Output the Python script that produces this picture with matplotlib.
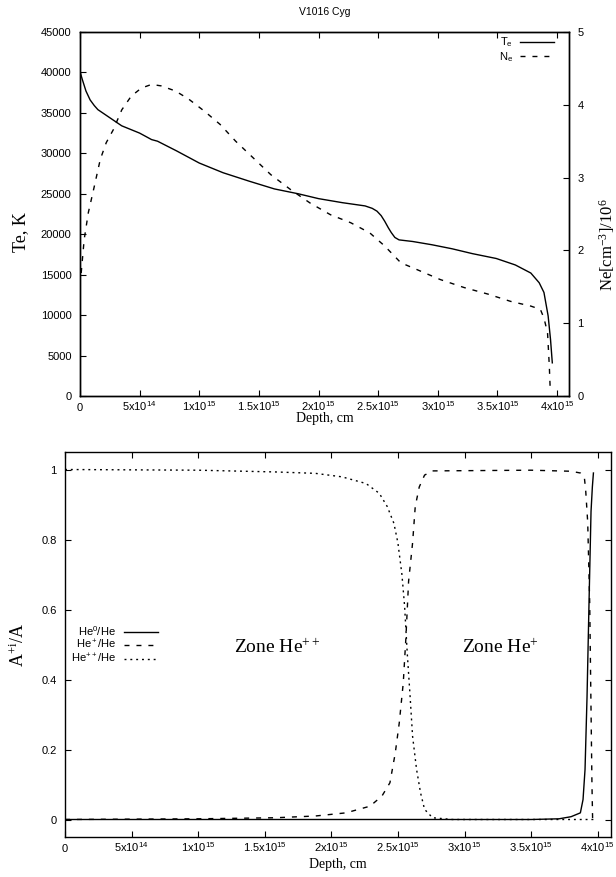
import matplotlib
matplotlib.use("Agg")
import matplotlib.pyplot as plt
import numpy as np

plt.rcParams['font.family'] = ['Liberation Sans', 'DejaVu Sans']
plt.rcParams['mathtext.fontset'] = 'custom'
plt.rcParams['mathtext.rm'] = 'Liberation Sans'
plt.rcParams['mathtext.it'] = 'Liberation Sans:italic'
plt.rcParams['mathtext.default'] = 'regular'

# ---------------- data (depth in units of 1e15 cm) ----------------
te_depth = [0.0, 0.02, 0.05, 0.085, 0.12, 0.15, 0.2, 0.25, 0.35, 0.50, 0.60, 0.65, 0.81,
            1.00, 1.20, 1.42, 1.63, 1.83, 2.00, 2.20, 2.39, 2.45, 2.49, 2.525, 2.555,
            2.585, 2.61, 2.64, 2.675, 2.79, 2.95, 3.12, 3.29, 3.49, 3.65, 3.78, 3.85,
            3.89, 3.925, 3.945, 3.96]
te_vals = [40100, 39100, 37700, 36600, 35900, 35400, 34900, 34400, 33400, 32500, 31700,
           31500, 30300, 28800, 27600, 26550, 25600, 25000, 24400, 23900, 23500, 23200,
           22850, 22300, 21600, 20800, 20200, 19600, 19300, 19100, 18700, 18200, 17600,
           17000, 16200, 15200, 14000, 12800, 9900, 7000, 4100]

ne_depth = [0.01, 0.035, 0.07, 0.12, 0.17, 0.22, 0.28, 0.35, 0.43, 0.515, 0.60, 0.68,
            0.80, 0.91, 1.045, 1.175, 1.305, 1.44, 1.60, 1.77, 1.93, 2.10, 2.27, 2.43,
            2.555, 2.69, 2.82, 3.02, 3.22, 3.42, 3.61, 3.78, 3.86, 3.89, 3.92, 3.935,
            3.942]
ne_vals = [1.69, 2.15, 2.52, 2.88, 3.25, 3.48, 3.66, 3.93, 4.12, 4.23, 4.28, 4.26, 4.19,
           4.08, 3.91, 3.73, 3.50, 3.29, 3.04, 2.83, 2.65, 2.49, 2.38, 2.24, 2.06, 1.83,
           1.74, 1.60, 1.49, 1.40, 1.30, 1.235, 1.19, 1.07, 0.87, 0.41, 0.11]

he0_depth = [0.0, 3.5, 3.71, 3.80, 3.87, 3.89, 3.905, 3.92, 3.935, 3.95, 3.96, 3.968]
he0_vals = [0.0, 0.0, 0.002, 0.008, 0.019, 0.057, 0.143, 0.35, 0.62, 0.88, 0.95, 0.99]

he1_depth = [0.0, 1.0, 1.58, 1.88, 2.11, 2.29, 2.38, 2.44, 2.48, 2.51, 2.54, 2.56, 2.58,
             2.61, 2.63, 2.66, 2.70, 2.76, 3.5, 3.80, 3.87, 3.90, 3.91, 3.925, 3.94,
             3.957, 3.962]
he1_vals = [0.0, 0.002, 0.005, 0.01, 0.019, 0.038, 0.067, 0.105, 0.19, 0.276, 0.39, 0.52,
            0.68, 0.79, 0.894, 0.95, 0.984, 0.996, 0.998, 0.995, 0.99, 0.977, 0.94, 0.85,
            0.62, 0.1, 0.0]

he2_depth = [0.0, 1.0, 1.58, 1.88, 2.08, 2.26, 2.36, 2.42, 2.47, 2.50, 2.53, 2.55, 2.57,
             2.59, 2.61, 2.64, 2.67, 2.70, 2.76, 2.91, 3.97]
he2_vals = [1.0, 0.998, 0.993, 0.989, 0.979, 0.96, 0.932, 0.894, 0.846, 0.79, 0.70, 0.61,
            0.475, 0.36, 0.238, 0.143, 0.076, 0.029, 0.005, 0.0, 0.0]

x_ticks = [0, 0.5, 1.0, 1.5, 2.0, 2.5, 3.0, 3.5, 4.0]
x_labels = ['0', '5x10$^{14}$', '1x10$^{15}$', '1.5x10$^{15}$', '2x10$^{15}$',
            '2.5x10$^{15}$', '3x10$^{15}$', '3.5x10$^{15}$', '4x10$^{15}$']
te_ticks = [0, 5000, 10000, 15000, 20000, 25000, 30000, 35000, 40000, 45000]
ne_ticks = [0, 1, 2, 3, 4, 5]
frac_ticks = [0, 0.2, 0.4, 0.6, 0.8, 1]
frac_labels = ['0', '0.2', '0.4', '0.6', '0.8', '1']

E15 = 1e15
W, H = 616, 877
fig = plt.figure(figsize=(W / 100, H / 100), dpi=100)

def ax_rect(l, r, t, b):
    return [l / W, 1 - b / H, (r - l) / W, (b - t) / H]

dash = (0, (3.6, 5.0))
dot = (0, (1.4, 2.8))
LW = 1.0
FS = 8
serif = dict(family=['Liberation Serif', 'DejaVu Serif'], math_fontfamily='stix')

def style_ticks(ax):
    ax.set_xticks([v * E15 for v in x_ticks])
    ax.set_xticklabels(x_labels)
    for lab in ax.get_xticklabels():
        lab.set_verticalalignment('baseline')
    for s in ax.spines.values():
        s.set_linewidth(1.0)

# ---------------- top panel ----------------
ax1 = fig.add_axes(ax_rect(80, 569, 32, 396))
l_te, = ax1.plot([d * E15 for d in te_depth], te_vals, color='black', lw=LW, label='T$_e$')
ax1.set_xlim(0, 4.1 * E15)
ax1.set_ylim(0, 45000)
ax1.set_yticks(te_ticks)
style_ticks(ax1)
ax1.tick_params(axis='x', direction='in', length=4, width=0.8, top=True, labelsize=FS, pad=11)
ax1.tick_params(axis='y', direction='in', length=4, width=0.8, right=False, labelsize=FS, pad=6)
ax1.set_xlabel('Depth, cm', fontsize=10, **serif)
ax1.xaxis.set_label_coords(0.5, -0.045)
ax1.set_ylabel('Te, K', fontsize=13, **serif)
ax1.yaxis.set_label_coords(-0.105, 0.45)

ax2 = ax1.twinx()
l_ne, = ax2.plot([d * E15 for d in ne_depth], ne_vals, color='black', lw=LW,
                 linestyle=dash, label='N$_e$')
ax2.set_ylim(0, 5)
ax2.set_yticks(ne_ticks)
ax2.tick_params(axis='y', direction='in', length=4, width=0.8, labelsize=FS, pad=6)
ax2.set_ylabel('Ne[cm$^{-3}$]/10$^6$', fontsize=12, rotation=90, **serif)
ax2.yaxis.set_label_coords(1.058, 0.415)
for s in ax2.spines.values():
    s.set_linewidth(1.0)

ax1.legend(handles=[l_te, l_ne], loc='upper right', bbox_to_anchor=(0.969, 0.99),
           frameon=False, fontsize=FS, markerfirst=False, handlelength=3.05,
           handletextpad=0.65, borderpad=0, borderaxespad=0, labelspacing=0.05)

fig.text(324.5 / W, 1 - 12 / H, 'V1016 Cyg', ha='center', va='center', fontsize=7.5)

# ---------------- bottom panel ----------------
ax3 = fig.add_axes(ax_rect(65, 611, 452, 837))
h0, = ax3.plot([d * E15 for d in he0_depth], he0_vals, color='black', lw=LW,
               label='He$^0$/He')
h1, = ax3.plot([d * E15 for d in he1_depth], he1_vals, color='black', lw=LW,
               linestyle=dash, label='He$^+$/He')
h2, = ax3.plot([d * E15 for d in he2_depth], he2_vals, color='black', lw=LW,
               linestyle=dot, label='He$^{++}$/He')
ax3.set_xlim(0, 4.1 * E15)
ax3.set_ylim(-0.05, 1.05)
ax3.set_yticks(frac_ticks)
ax3.set_yticklabels(frac_labels)
style_ticks(ax3)
ax3.tick_params(axis='x', direction='in', length=4, width=0.8, top=True, labelsize=FS, pad=11)
ax3.tick_params(axis='y', direction='in', length=4, width=0.8, right=True, labelsize=FS, pad=6)
ax3.set_xlabel('Depth, cm', fontsize=10, **serif)
ax3.xaxis.set_label_coords(0.5, -0.055)
ax3.set_ylabel('A$^{+i}$/A', fontsize=13, **serif)
ax3.yaxis.set_label_coords(-0.068, 0.5)

ax3.legend(handles=[h0, h1, h2], loc='center right', bbox_to_anchor=(0.170, 0.5),
           frameon=False, fontsize=FS, markerfirst=False, handlelength=3.05,
           handletextpad=0.7, borderpad=0, borderaxespad=0, labelspacing=0.05)

ax3.text(1.59 * E15, 0.49, 'Zone He$^{++}$', ha='center', va='center', fontsize=14, **serif)
ax3.text(3.27 * E15, 0.49, 'Zone He$^{+}$', ha='center', va='center', fontsize=14, **serif)

fig.savefig('out.png', dpi=100)
